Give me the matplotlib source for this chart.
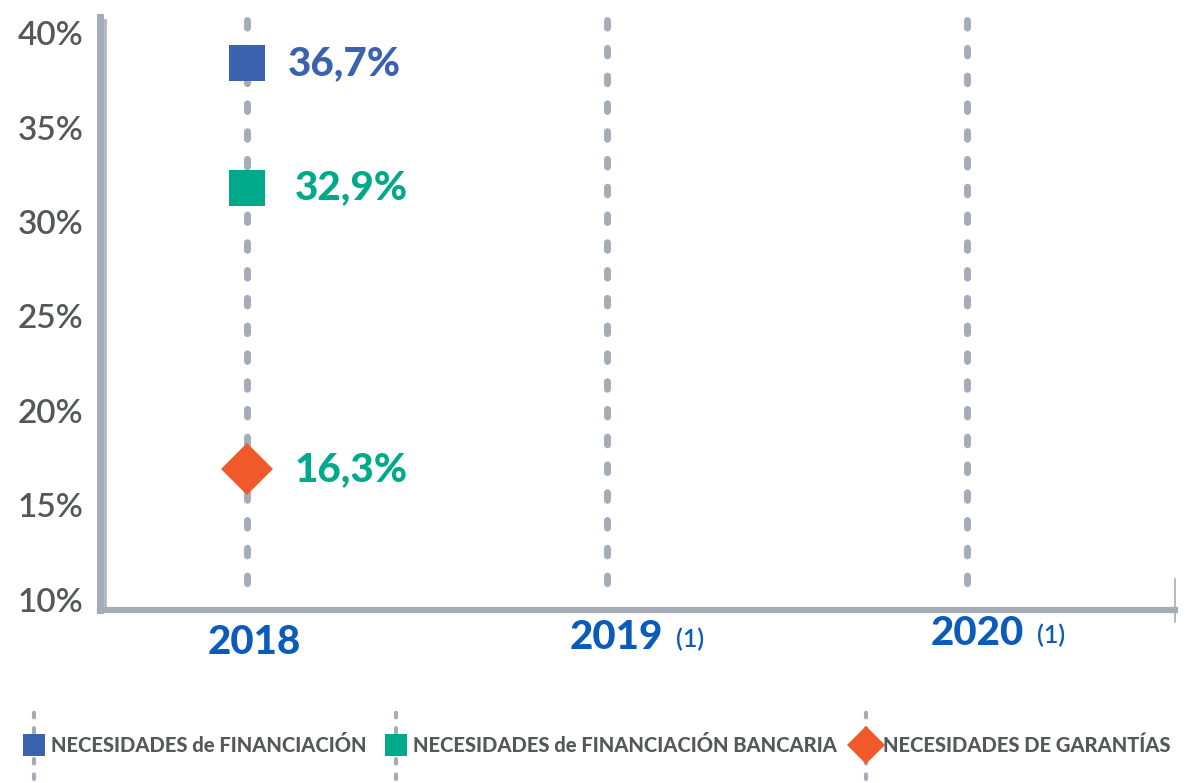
#!/usr/bin/env python3
"""
Necesidades de financiación y garantías, 2018-2020.
"""
import matplotlib
matplotlib.use('Agg')
import matplotlib.pyplot as plt
from matplotlib.lines import Line2D
from matplotlib.legend_handler import HandlerBase

years = ['2018', '2019', '2020']
year_notes = ['', '(1)', '(1)']
series_names = ['NECESIDADES de FINANCIACIÓN',
                'NECESIDADES de FINANCIACIÓN BANCARIA',
                'NECESIDADES DE GARANTÍAS']
# marker heights as drawn in the chart, and the values printed next to them
marker_values = [38.4, 31.8, 16.9]
value_labels = ['36,7%', '32,9%', '16,3%']
yticks = [10, 15, 20, 25, 30, 35, 40]

colors = ['#3a62ae', '#00a98a', '#f05a2a']
label_colors = ['#3a62ae', '#00a98a', '#00a98a']
markers = ['s', 's', 'D']
marker_sizes = [26, 26, 26]
label_offsets = [29, 34, 34]
GRID = '#a4adb7'
TEXT = '#555759'
YEAR = '#0a5cb8'

plt.rcParams['font.family'] = ['Lato', 'DejaVu Sans']

fig = plt.figure(figsize=(11.87, 7.83), dpi=100)
ax = fig.add_axes([0.0842, 0.221, 0.99 - 0.0842, 0.757])

x = list(range(len(years)))
for xi in x:
    ax.plot([xi, xi], [40.7, 9.9], color=GRID, lw=5,
            dashes=(1.1, 2.9), dash_capstyle='round', zorder=1)

for i in range(len(series_names)):
    ax.plot(x[0], marker_values[i], marker=markers[i], ms=marker_sizes[i],
            color=colors[i], mew=0, linestyle='none', zorder=3)
    ax.annotate(value_labels[i], (x[0], marker_values[i]),
                xytext=(label_offsets[i], 0), textcoords='offset points',
                ha='left', va='center', fontsize=29, fontweight='black',
                color=label_colors[i])

ax.set_xlim(-0.41, 2.58)
ax.set_ylim(9.45, 40.85)
ax.set_yticks(yticks)
ax.set_yticklabels([f'{v}%' for v in yticks], fontsize=24, color=TEXT,
                   fontweight='semibold')
ax.tick_params(axis='y', length=0, pad=12)
ax.set_xticks([])

for side in ['top', 'right']:
    ax.spines[side].set_visible(False)
ax.spines['left'].set_color(GRID)
ax.spines['left'].set_linewidth(5)
ax.spines['bottom'].set_color(GRID)
ax.spines['bottom'].set_linewidth(4.5)
# shadow along the left axis
ax.plot([-0.395, -0.395], [9.6, 40.7], color='#7d848c', lw=2, alpha=0.6,
        zorder=2, clip_on=False)
# end mark of the x axis
ax.plot([2.58, 2.58], [8.8, 11.1], color=GRID, lw=1.2, clip_on=False)

year_y = [-0.055, -0.046, -0.04]
year_dx = [5, 7, 8]
for xi, yr, note, yy, dx in zip(x, years, year_notes, year_y, year_dx):
    txt = ax.annotate(yr, (xi, yy), xycoords=ax.get_xaxis_transform(),
                      xytext=(dx, 0), textcoords='offset points',
                      ha='center', va='center', fontsize=29,
                      fontweight='black', color=YEAR)
    if note:
        ax.annotate(note, (1, 0.45), xycoords=txt, xytext=(9, 0),
                    textcoords='offset points', ha='left', va='center',
                    fontsize=18, fontweight='semibold', color=YEAR)


class DottedHandler(HandlerBase):
    def create_artists(self, legend, orig_handle, xdescent, ydescent,
                       width, height, fontsize, trans):
        cx = width / 2 - xdescent
        cy = height / 2 - ydescent
        line = Line2D([cx, cx], [cy - 2.4 * height, cy + 2.4 * height],
                      color=GRID, lw=3, dashes=(1.1, 2.6),
                      dash_capstyle='round', transform=trans)
        mark = Line2D([cx], [cy], marker=orig_handle.get_marker(),
                      ms=orig_handle.get_markersize(),
                      color=orig_handle.get_color(), mew=0,
                      linestyle='none', transform=trans)
        return [line, mark]


handles = [Line2D([], [], marker=m, ms=s, color=c, linestyle='none')
           for m, s, c in zip(markers, [16, 16, 19], colors)]
leg = fig.legend(handles, series_names, loc='center',
                 bbox_to_anchor=(0.503, 1 - 745 / 783), ncol=3, frameon=False,
                 handler_map={Line2D: DottedHandler()}, handlelength=1.0,
                 handletextpad=0.35, columnspacing=0.95,
                 prop={'size': 14.5, 'weight': 'black'})
for t in leg.get_texts():
    t.set_color(TEXT)

fig.savefig('out.png', dpi=100)
